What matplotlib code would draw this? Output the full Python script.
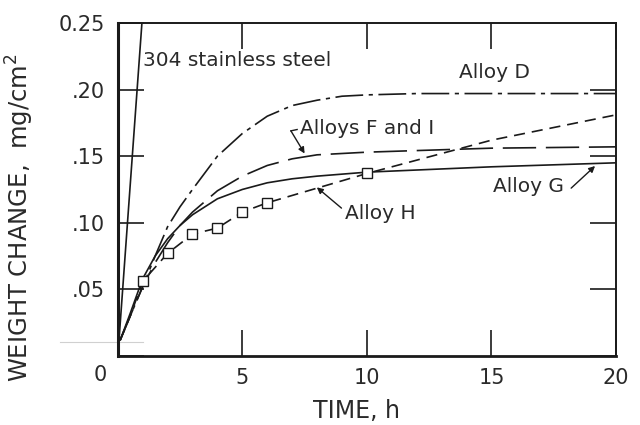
import matplotlib
matplotlib.use("Agg")
import matplotlib.pyplot as plt

# weight gain vs exposure time
steel_t = [0.05, 0.97]
steel_w = [0.012, 0.25]

alloy_d_t = [0.1, 0.5, 1, 1.5, 2, 2.5, 3, 4, 5, 6, 7, 8, 9, 10, 12, 15, 20]
alloy_d_w = [0.012, 0.03, 0.052, 0.075, 0.097, 0.112, 0.125, 0.15, 0.167,
             0.18, 0.188, 0.192, 0.195, 0.196, 0.197, 0.197, 0.197]

alloy_fi_t = [0.1, 0.5, 1, 1.5, 2, 2.5, 3, 4, 5, 6, 7, 8, 10, 15, 20]
alloy_fi_w = [0.012, 0.03, 0.052, 0.07, 0.085, 0.098, 0.108, 0.124, 0.135,
              0.143, 0.148, 0.151, 0.153, 0.156, 0.157]

alloy_g_t = [0.1, 0.5, 1, 1.5, 2, 2.5, 3, 4, 5, 6, 7, 8, 10, 15, 20]
alloy_g_w = [0.012, 0.032, 0.058, 0.075, 0.088, 0.098, 0.106, 0.118, 0.125,
             0.13, 0.133, 0.135, 0.138, 0.142, 0.145]

alloy_h_t = [0.1, 0.5, 1, 2, 3, 4, 5, 6, 10, 12, 15, 20]
alloy_h_w = [0.012, 0.03, 0.056, 0.077, 0.0915, 0.096, 0.108, 0.115, 0.137,
             0.147, 0.162, 0.181]
alloy_h_marks = [2, 3, 4, 5, 6, 7, 8]

x_ticks = [0, 5, 10, 15, 20]
x_labels = ["", "5", "10", "15", "20"]
y_ticks = [0, 0.05, 0.10, 0.15, 0.20, 0.25]
y_labels = ["", ".05", ".10", ".15", ".20", "0.25"]

plt.rcParams["font.family"] = ["DejaVu Sans"]
plt.rcParams["lines.scale_dashes"] = False
ink = "#1a1a1a"
txt_ink = "#2a2a2a"

fig = plt.figure(figsize=(6.4, 4.25), dpi=100)
ax = fig.add_axes([0.184, 0.1624, 0.7785, 0.7836])

lw = 1.2
ax.plot(steel_t, steel_w, color=ink, lw=lw)
ax.plot(alloy_d_t, alloy_d_w, color=ink, lw=lw, dashes=(20, 4, 3, 4))
ax.plot(alloy_fi_t, alloy_fi_w, color=ink, lw=lw, dashes=(24, 7))
ax.plot(alloy_g_t, alloy_g_w, color=ink, lw=lw)
ax.plot(alloy_h_t, alloy_h_w, color=ink, lw=lw, dashes=(8, 5),
        marker="s", markevery=alloy_h_marks, markersize=7,
        markerfacecolor="white", markeredgecolor=ink, markeredgewidth=1.0)

ax.set_xlim(0, 20)
ax.set_ylim(0, 0.25)
ax.set_xticks(x_ticks)
ax.set_xticklabels(x_labels)
ax.set_yticks(y_ticks)
ax.set_yticklabels(y_labels)
ax.tick_params(direction="in", length=19, width=1.2, color=ink,
               labelcolor=txt_ink, labelsize=15, top=True, right=True, pad=9)
for side, w in [("left", 2.2), ("bottom", 2.0), ("top", 1.4), ("right", 1.4)]:
    ax.spines[side].set_linewidth(w)
    ax.spines[side].set_color(ink)

# shared origin label
ax.text(-0.72, -0.0145, "0", ha="center", va="center", fontsize=15,
        color=txt_ink, clip_on=False)

ax.set_xlabel("TIME, h", fontsize=17, color=txt_ink)
ax.xaxis.set_label_coords(0.48, -0.13)
ax.set_ylabel("WEIGHT CHANGE,  mg/cm$^2$", fontsize=17.5, color=txt_ink)
ax.yaxis.set_label_coords(-0.165, 0.415)

# faint scan line near the origin
ax.plot([-2.33, 1.0], [0.0103, 0.0103], color="#d0d0d0", lw=0.8,
        clip_on=False)

txt = dict(fontsize=14.5, color=txt_ink)
ax.text(1.0, 0.222, "304 stainless steel", ha="left", va="center", **txt)
ax.text(13.7, 0.213, "Alloy D", ha="left", va="center", **txt)
ax.text(7.3, 0.171, "Alloys F and I", ha="left", va="center", **txt)
ax.text(9.13, 0.107, "Alloy H", ha="left", va="center", **txt)
ax.text(15.06, 0.127, "Alloy G", ha="left", va="center", **txt)

arrow = dict(arrowstyle="-|>", color=ink, lw=1.0, mutation_scale=9,
             shrinkA=0, shrinkB=0)
ax.annotate("", xy=(7.5, 0.152), xytext=(6.95, 0.169), arrowprops=arrow)
ax.plot([6.95, 7.2], [0.169, 0.170], color=ink, lw=1.0)
ax.annotate("", xy=(7.99, 0.1266), xytext=(8.98, 0.111), arrowprops=arrow)
ax.annotate("", xy=(19.16, 0.1426), xytext=(18.2, 0.126), arrowprops=arrow)

fig.savefig("out.png", dpi=100, facecolor="white")
